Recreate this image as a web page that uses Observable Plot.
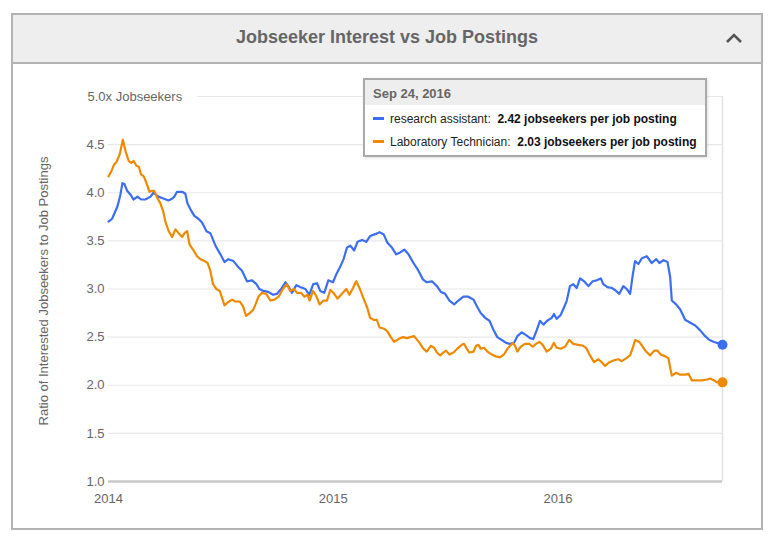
<!DOCTYPE html>
<html>
<head>
<meta charset="utf-8">
<script src="https://cdn.jsdelivr.net/npm/d3@7"></script>
<script src="https://cdn.jsdelivr.net/npm/@observablehq/plot@0.6"></script>
<style>
  html, body { margin: 0; padding: 0; background: #fff; }
  body { width: 769px; height: 543px; position: relative; overflow: hidden;
         font-family: "Liberation Sans", Arial, Helvetica, sans-serif; }
  #panel { position: absolute; left: 11px; top: 13px; width: 748px; height: 513px;
           border: 2px solid #b3b3b3; background: #fff; }
  #header { position: absolute; left: 0; top: 0; width: 748px; height: 47px;
            background: #eeeeee; border-bottom: 2px solid #b3b3b3; }
  #title { position: absolute; left: 0; right: 0; top: 12px; text-align: center;
           font-weight: bold; font-size: 18px; color: #666; }
  #chev { position: absolute; left: 711px; top: 16px; }
  #chart { position: absolute; left: 0; top: 62px; }
  #tip { position: absolute; left: 363px; top: 78px; width: 340px; height: 75px;
         border: 2px solid #a9a9a9; background: #fff; box-shadow: 1px 1px 3px rgba(0,0,0,0.12); }
  #tiphead { height: 25px; background: #eeeeee; color: #666; font-weight: bold; font-size: 13px;
             line-height: 27px; padding-left: 8px; }
  .row { position: absolute; left: 8px; font-size: 12px; color: #222; white-space: nowrap; }
  .sw { display: inline-block; width: 11px; height: 3px; vertical-align: middle; margin-right: 6px; position: relative; top: -1px; }
  .row b { color: #111; }
</style>
</head>
<body>
<div id="panel">
  <div id="header">
    <div id="title">Jobseeker Interest vs Job Postings</div>
    <svg id="chev" width="20" height="14" viewBox="0 0 20 14"><path d="M3 11 L10 4 L17 11" fill="none" stroke="#555" stroke-width="2.6"/></svg>
  </div>
</div>
<div id="chart"></div>
<div id="tip">
  <div id="tiphead"></div>
  <div class="row" id="row1" style="top:32px"></div>
  <div class="row" id="row2" style="top:55px"></div>
</div>
<script>
// ---------- data (decimal years, ratio values) ----------
const seriesNames = ["research assistant", "Laboratory Technician"];
const seriesColors = ["#3b6ef2", "#ef8a00"];

const raYears = [2014.000,2014.016,2014.031,2014.040,2014.053,2014.062,2014.071,2014.083,2014.098,2014.111,
2014.129,2014.145,2014.164,2014.187,2014.200,2014.222,2014.244,2014.267,2014.284,2014.293,
2014.305,2014.328,2014.342,2014.351,2014.364,2014.382,2014.400,2014.416,2014.436,2014.453,
2014.476,2014.498,2014.516,2014.533,2014.556,2014.573,2014.594,2014.616,2014.639,2014.658,
2014.671,2014.689,2014.711,2014.732,2014.750,2014.768,2014.787,2014.800,2014.816,2014.836,
2014.853,2014.876,2014.893,2014.911,2014.928,2014.942,2014.960,2014.978,2014.999,2015.013,
2015.031,2015.046,2015.061,2015.076,2015.093,2015.108,2015.128,2015.147,2015.164,2015.187,
2015.206,2015.224,2015.241,2015.261,2015.280,2015.298,2015.316,2015.335,2015.357,2015.379,
2015.399,2015.416,2015.439,2015.461,2015.479,2015.498,2015.517,2015.538,2015.557,2015.579,
2015.601,2015.624,2015.639,2015.656,2015.676,2015.695,2015.712,2015.730,2015.750,2015.769,
2015.787,2015.804,2015.819,2015.839,2015.858,2015.876,2015.890,2015.905,2015.920,2015.935,
2015.952,2015.972,2015.982,2015.994,2016.012,2016.027,2016.039,2016.053,2016.068,2016.083,
2016.098,2016.116,2016.135,2016.154,2016.172,2016.190,2016.201,2016.219,2016.239,2016.253,
2016.272,2016.290,2016.305,2016.320,2016.332,2016.342,2016.357,2016.372,2016.394,2016.416,
2016.436,2016.450,2016.468,2016.486,2016.498,2016.505,2016.524,2016.542,2016.564,2016.587,
2016.609,2016.631,2016.653,2016.672,2016.693,2016.730];
const raValues = [3.70,3.73,3.81,3.86,3.98,4.10,4.09,4.02,3.98,3.93,
3.96,3.93,3.93,3.96,4.00,3.96,3.94,3.92,3.94,3.96,
4.01,4.01,3.99,3.89,3.83,3.76,3.73,3.69,3.60,3.58,
3.45,3.36,3.28,3.31,3.29,3.24,3.19,3.08,3.09,3.05,
3.00,2.98,2.97,2.94,2.95,3.00,3.07,3.03,2.96,3.04,
3.02,3.00,2.94,3.05,3.06,2.98,2.96,3.09,3.07,3.15,
3.23,3.31,3.43,3.45,3.40,3.49,3.51,3.49,3.55,3.57,
3.59,3.57,3.48,3.43,3.36,3.38,3.41,3.36,3.27,3.19,
3.10,3.07,3.08,3.03,2.97,2.95,2.88,2.84,2.88,2.92,
2.92,2.89,2.82,2.75,2.70,2.67,2.58,2.50,2.47,2.44,
2.43,2.44,2.51,2.55,2.52,2.49,2.48,2.57,2.67,2.63,
2.67,2.70,2.74,2.69,2.73,2.81,2.88,3.03,3.05,3.01,
3.11,3.08,3.03,3.08,3.09,3.11,3.05,3.02,3.01,2.99,
2.95,3.03,3.00,2.95,3.15,3.29,3.26,3.32,3.34,3.27,
3.31,3.27,3.30,3.28,3.12,2.88,2.84,2.79,2.68,2.65,
2.62,2.57,2.51,2.47,2.45,2.42];

const ltYears = [2014.000,2014.012,2014.024,2014.036,2014.050,2014.064,2014.076,2014.090,2014.101,2014.112,
2014.124,2014.135,2014.145,2014.157,2014.169,2014.182,2014.194,2014.204,2014.216,2014.231,
2014.243,2014.253,2014.268,2014.283,2014.298,2014.312,2014.328,2014.338,2014.350,2014.361,
2014.376,2014.394,2014.409,2014.427,2014.441,2014.453,2014.465,2014.480,2014.495,2014.505,
2014.516,2014.530,2014.550,2014.564,2014.584,2014.599,2014.612,2014.628,2014.643,2014.656,
2014.667,2014.683,2014.702,2014.720,2014.738,2014.757,2014.776,2014.794,2014.809,2014.824,
2014.839,2014.856,2014.872,2014.886,2014.895,2014.910,2014.924,2014.939,2014.957,2014.972,
2014.987,2015.001,2015.019,2015.039,2015.058,2015.072,2015.088,2015.102,2015.117,2015.135,
2015.152,2015.164,2015.179,2015.194,2015.206,2015.224,2015.241,2015.256,2015.271,2015.290,
2015.310,2015.328,2015.342,2015.360,2015.384,2015.401,2015.416,2015.434,2015.449,2015.461,
2015.476,2015.490,2015.502,2015.517,2015.535,2015.552,2015.572,2015.582,2015.594,2015.606,
2015.624,2015.636,2015.646,2015.656,2015.671,2015.686,2015.705,2015.724,2015.742,2015.760,
2015.775,2015.787,2015.799,2015.809,2015.819,2015.834,2015.853,2015.872,2015.888,2015.902,
2015.917,2015.932,2015.950,2015.968,2015.982,2015.994,2016.012,2016.031,2016.050,2016.068,
2016.090,2016.112,2016.127,2016.142,2016.160,2016.179,2016.194,2016.209,2016.228,2016.249,
2016.268,2016.283,2016.302,2016.320,2016.332,2016.342,2016.361,2016.376,2016.391,2016.409,
2016.427,2016.441,2016.456,2016.476,2016.490,2016.498,2016.505,2016.524,2016.542,2016.564,
2016.579,2016.594,2016.616,2016.639,2016.661,2016.676,2016.693,2016.705,2016.730];
const ltValues = [4.17,4.22,4.29,4.32,4.40,4.55,4.43,4.33,4.31,4.33,
4.28,4.27,4.19,4.17,4.10,4.01,4.02,4.02,3.95,3.89,
3.81,3.70,3.60,3.54,3.62,3.58,3.54,3.58,3.60,3.46,
3.41,3.34,3.31,3.29,3.27,3.19,3.05,3.00,2.98,2.91,
2.83,2.86,2.89,2.87,2.87,2.82,2.72,2.75,2.78,2.85,
2.92,2.96,2.95,2.88,2.89,2.92,3.00,3.05,2.98,3.00,
2.96,2.96,2.92,2.94,2.88,2.98,2.93,2.84,2.88,2.88,
2.99,2.96,2.90,2.95,3.00,2.94,3.01,3.08,3.01,2.90,
2.80,2.70,2.68,2.68,2.60,2.59,2.56,2.50,2.45,2.48,
2.50,2.49,2.50,2.51,2.44,2.38,2.35,2.41,2.39,2.34,
2.31,2.34,2.36,2.32,2.34,2.38,2.42,2.43,2.38,2.34,
2.35,2.41,2.42,2.38,2.39,2.35,2.32,2.30,2.29,2.32,
2.38,2.41,2.44,2.41,2.35,2.40,2.43,2.43,2.40,2.43,
2.45,2.42,2.35,2.38,2.44,2.39,2.38,2.40,2.47,2.43,
2.42,2.41,2.38,2.31,2.24,2.27,2.24,2.20,2.24,2.26,
2.27,2.25,2.28,2.31,2.39,2.47,2.45,2.40,2.35,2.31,
2.36,2.36,2.32,2.30,2.28,2.18,2.10,2.13,2.11,2.11,
2.12,2.05,2.05,2.05,2.06,2.07,2.05,2.03,2.03];

const yTicks = [1.0, 1.5, 2.0, 2.5, 3.0, 3.5, 4.0, 4.5];
const yTopTick = [5.0];
const yTopLabel = "5.0x Jobseekers";
const yAxisTitle = "Ratio of Interested Jobseekers to Job Postings";
const tooltipDate = "Sep 24, 2016";
const tooltipUnit = "jobseekers per job posting";

// ---------- build ----------
const toDate = y => {
  const yr = Math.floor(y);
  const a = Date.UTC(yr, 0, 1), b = Date.UTC(yr + 1, 0, 1);
  return new Date(a + (y - yr) * (b - a));
};
const ra = raYears.map((t, i) => ({date: toDate(t), value: raValues[i], series: seriesNames[0]}));
const lt = ltYears.map((t, i) => ({date: toDate(t), value: ltValues[i], series: seriesNames[1]}));
const lastRa = ra[ra.length - 1], lastLt = lt[lt.length - 1];

const chart = Plot.plot({
  width: 769,
  height: 470,
  marginLeft: 108,
  marginRight: 47,
  marginTop: 34,
  marginBottom: 51,
  style: {fontFamily: "'Liberation Sans', Arial, Helvetica, sans-serif", fontSize: "13px", color: "#666", background: "transparent"},
  x: {type: "utc", domain: [ra[0].date, lastRa.date]},
  y: {domain: [1, 5]},
  marks: [
    Plot.ruleY(yTicks.slice(1).concat(yTopTick), {stroke: "#e8e8e8", strokeWidth: 1.2}),
    Plot.text([yTopLabel], {y: () => yTopTick[0], text: d => d, frameAnchor: "left", textAnchor: "start", dx: -21,
      fill: "#666", stroke: "white", strokeWidth: 30, strokeLinejoin: "round", fontSize: 13}),
    Plot.ruleX([lastRa.date], {stroke: "#e2e2e2", strokeWidth: 1.5}),
    Plot.ruleY([1], {stroke: "#c8c8c8", strokeWidth: 2.5}),
    Plot.axisY({ticks: yTicks, tickSize: 0, tickPadding: 4, tickFormat: d3.format(".1f"), label: null, fill: "#666", fontSize: 13}),
    Plot.axisX({ticks: d3.utcYear.every(1), tickFormat: d3.utcFormat("%Y"), tickSize: 0, tickPadding: 12, label: null, fill: "#666", fontSize: 13}),
    Plot.text([yAxisTitle], {text: d => d, frameAnchor: "left", textAnchor: "middle", rotate: -90, dx: -65, dy: 2, fill: "#666", fontSize: 13}),
    Plot.line(ra, {x: "date", y: "value", stroke: seriesColors[0], strokeWidth: 2.2, curve: "linear"}),
    Plot.line(lt, {x: "date", y: "value", stroke: seriesColors[1], strokeWidth: 2.2, curve: "linear"}),
    Plot.dot([lastRa], {x: "date", y: "value", r: 5, fill: seriesColors[0], stroke: "none"}),
    Plot.dot([lastLt], {x: "date", y: "value", r: 5, fill: seriesColors[1], stroke: "none"})
  ]
});
document.getElementById("chart").appendChild(chart);

document.getElementById("tiphead").textContent = tooltipDate;
const rows = [[lastRa, seriesColors[0]], [lastLt, seriesColors[1]]];
["row1", "row2"].forEach((id, i) => {
  const [p, c] = rows[i];
  const el = document.getElementById(id);
  const sw = document.createElement("span"); sw.className = "sw"; sw.style.background = c;
  el.appendChild(sw);
  el.appendChild(document.createTextNode(p.series + ":\u00a0 "));
  const b = document.createElement("b"); b.textContent = p.value.toFixed(2) + " " + tooltipUnit;
  el.appendChild(b);
});
</script>
</body>
</html>
